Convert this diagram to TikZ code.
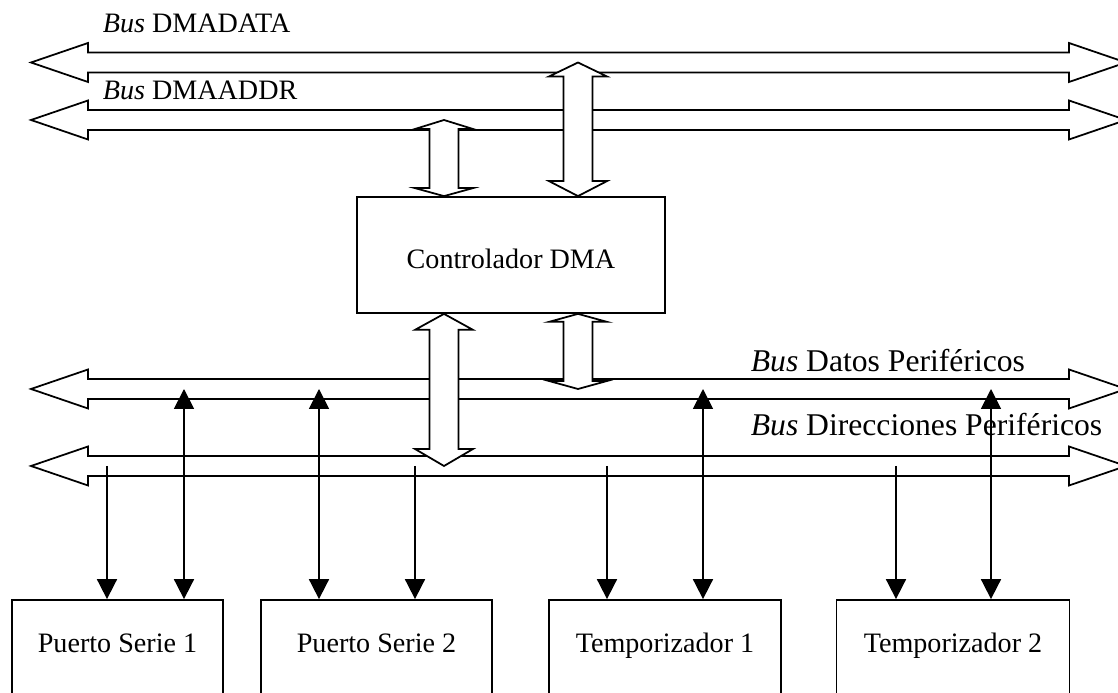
\documentclass[tikz,border=0pt]{standalone}
\usepackage{fontspec}
\setmainfont{Liberation Serif}
\usetikzlibrary{calc,arrows.meta}

% half shaft and half head of the horizontal buses
\newcommand{\sw}{0.2}
\newcommand{\hw}{0.39}
\newcommand{\hbus}[2]{
% bus as a wide double arrow across the page
\coordinate (#2) at (0,#1);
\filldraw[fill=white] ($(#2)+(0.62,0)$) -- ++(1.14,\hw) -- ++(0,\sw-\hw) --
            ++(19.62,0) -- ++(0,\hw-\sw) -- ++(1.14,-\hw) --
            ++(-1.14,-\hw) -- ++(0,\hw-\sw) -- ++(-19.62,0) -- ++(0,\sw-\hw) -- cycle;
}
% vertical block arrow: top point, bottom point, head lengths
\newcommand{\vbus}[4]{
\path (#1) coordinate (vt) (#2) coordinate (vb);
\filldraw[fill=white] (vt) -- ++(0.58,-#3) -- ++(-0.29,0) |- ($(vb)+(0.58,#4)$) --
            (vb) -- ++(-0.58,#4) -- ++(0.29,0) |- ($(vt)+(-0.58,-#3)$) -- cycle;
}
% address line down, data line both ways
\newcommand{\taps}[3]{
\draw[sig,->] ($(dir)+(#2,0)$) coordinate (#1a) -- (#1a |- #1.north);
\draw[sig,<->] ($(dat)+(#3,0)$) coordinate (#1d) -- (#1d |- #1.north);
}

\begin{document}
\begin{tikzpicture}[line width=1pt,
  font=\fontsize{16}{19}\selectfont,
  sig/.style={line width=1pt, >={Triangle[width=0.4cm,length=0.4cm]}},
  lbl/.style={anchor=base west, inner sep=0},
  big/.style={lbl, font=\fontsize{18}{21}\selectfont},
  periph/.style={draw, anchor=base, inner sep=0, text height=1.06cm, text depth=1.5cm}]
\path[use as bounding box] (0,0) rectangle (22.36,13.86);
\clip (0,0) rectangle (22.36,13.86);

% memory side buses
\hbus{12.61}{data}
\hbus{11.46}{addr}
% peripheral buses
\hbus{6.08}{dat}
\hbus{4.54}{dir}

\node[draw, fill=white, inner sep=0, minimum width=6.16cm,
      text height=1.44cm, text depth=0.88cm, anchor=base] (dma) at (10.22,8.48) {Controlador DMA};
\coordinate (xa) at ($(dma.center)+(-1.34,0)$);
\coordinate (xb) at ($(dma.center)+(1.34,0)$);

% links of the controller
\vbus{xa |- addr}{xa |- dma.north}{0.18}{0.16}
\vbus{xb |- data}{xb |- dma.north}{0.28}{0.3}
\vbus{xa |- dma.south}{xa |- dir}{0.32}{0.34}
\vbus{xb |- dma.south}{xb |- dat}{0.16}{0.16}

\node[lbl] (ldata) at (2.04,13.2) {\textit{Bus} DMADATA};
\node[lbl] (laddr) at (2.04,11.86) {\textit{Bus} DMAADDR};
\node[big] (ldat) at (15.0,6.42) {\textit{Bus} Datos Periféricos};
\node[big] (ldir) at (15.0,5.14) {\textit{Bus} Direcciones Periféricos};

% peripherals
\node[periph, minimum width=4.22cm] (ps1) at (2.35,0.8) {Puerto Serie 1};
\node[periph, minimum width=4.62cm] (ps2) at (7.53,0.8) {Puerto Serie 2};
\node[periph, minimum width=4.64cm] (tm1) at (13.3,0.8) {Temporizador 1};
\node[periph, minimum width=4.66cm] (tm2) at (19.06,0.8) {Temporizador 2};

\taps{ps1}{2.14}{3.68}
\taps{ps2}{8.30}{6.38}
\taps{tm1}{12.14}{14.06}
\taps{tm2}{17.92}{19.82}
\end{tikzpicture}
\end{document}
